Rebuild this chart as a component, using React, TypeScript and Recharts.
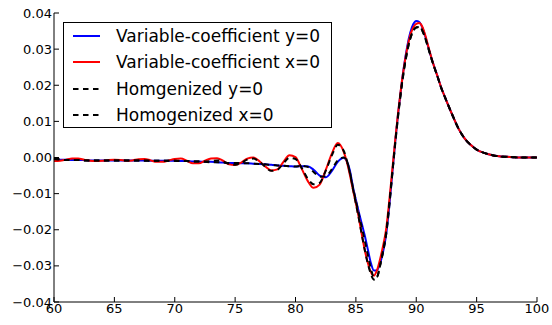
import React from 'react';
import { LineChart, Line, XAxis, YAxis } from 'recharts';

const xValues = [
  60, 60.5, 61, 61.5, 62, 62.5, 63, 63.5, 64, 64.5,
  65, 65.5, 66, 66.5, 67, 67.5, 68, 68.5, 69, 69.5,
  70, 70.5, 71, 71.5, 72, 72.5, 73, 73.5, 74, 74.5,
  75, 75.5, 76, 76.5, 77, 77.5, 78, 78.5, 79, 79.5,
  80, 80.5, 81, 81.5, 82, 82.5, 83, 83.5, 84,
  84.25, 84.5, 84.75, 85, 85.25, 85.5, 85.75, 86,
  86.25, 86.5, 86.75, 87, 87.25, 87.5, 87.75, 88,
  88.25, 88.5, 88.75, 89, 89.25, 89.5, 89.75, 90,
  90.25, 90.5, 90.75, 91, 91.25, 91.5, 91.75, 92,
  92.5, 93, 93.5, 94, 94.5, 95, 95.5, 96,
  96.5, 97, 97.5, 98, 98.5, 99, 99.5, 100,
];

// Variable-coefficient y=0 (blue)
const varCoefY = [
  -0.0005, -0.0006, -0.0006, -0.0007, -0.0007, -0.0007, -0.0008, -0.0008, -0.0008, -0.0008,
  -0.0008, -0.0008, -0.0008, -0.0008, -0.0008, -0.0008, -0.0009, -0.0009, -0.0009, -0.0009,
  -0.0009, -0.001, -0.001, -0.0011, -0.0011, -0.0012, -0.0012, -0.0013, -0.0014, -0.0015,
  -0.0015, -0.0016, -0.0016, -0.0017, -0.0018, -0.0019, -0.002, -0.0022, -0.0023, -0.0024,
  -0.0025, -0.0024, -0.0024, -0.0034, -0.005, -0.0055, -0.0038, -0.0012, -0.0001,
  -0.001, -0.0035, -0.008, -0.0117, -0.0152, -0.0185, -0.0218, -0.0256,
  -0.0293, -0.0313, -0.0312, -0.0293, -0.0262, -0.0215, -0.014, -0.005,
  0.004, 0.0122, 0.0193, 0.0256, 0.0307, 0.0345, 0.0369, 0.0378,
  0.0375, 0.036, 0.0335, 0.0305, 0.0276, 0.025, 0.0226, 0.02,
  0.0157, 0.0117, 0.008, 0.0053, 0.0035, 0.0022, 0.0014, 0.0009,
  0.0005, 0.0003, 0.0002, 0.0001, 0, 0, 0, 0,
];

// Variable-coefficient x=0 (red)
const varCoefX = [
  -0.001, -0.0009, -0.0006, -0.0003, -0.0003, -0.0006, -0.0009, -0.001, -0.0009, -0.0007,
  -0.0006, -0.0007, -0.0009, -0.0008, -0.0005, -0.0004, -0.0008, -0.0012, -0.0012, -0.0008,
  -0.0004, -0.0003, -0.0009, -0.0016, -0.0016, -0.0009, -0.0003, -0.0002, -0.0009, -0.0019,
  -0.0021, -0.0014, -0.0003, 0, -0.001, -0.0025, -0.0036, -0.0033, -0.0012, 0.0006,
  0.0001, -0.003, -0.0064, -0.0084, -0.0075, -0.0035, 0.001, 0.004, 0.0015,
  -0.0012, -0.0048, -0.0088, -0.0127, -0.0168, -0.0215, -0.0258, -0.0293,
  -0.0318, -0.0327, -0.0312, -0.0282, -0.0245, -0.02, -0.0125, -0.004,
  0.0045, 0.0125, 0.0195, 0.0254, 0.0302, 0.0338, 0.036, 0.037,
  0.0372, 0.0362, 0.0338, 0.0307, 0.0277, 0.025, 0.0226, 0.02,
  0.0157, 0.0117, 0.008, 0.0053, 0.0035, 0.0022, 0.0014, 0.0009,
  0.0005, 0.0003, 0.0002, 0.0001, 0, 0, 0, 0,
];

// Homgenized y=0 (black dashed)
const homogY = [
  -0.0002, -0.0005, -0.0007, -0.0007, -0.0007, -0.0008, -0.0008, -0.0008, -0.0008, -0.0008,
  -0.0008, -0.0008, -0.0008, -0.0008, -0.0008, -0.0009, -0.0009, -0.0009, -0.0009, -0.0009,
  -0.0009, -0.001, -0.001, -0.0011, -0.0011, -0.0012, -0.0013, -0.0013, -0.0014, -0.0015,
  -0.0015, -0.0016, -0.0016, -0.0017, -0.0018, -0.0019, -0.0021, -0.0022, -0.0023, -0.0024,
  -0.0025, -0.0023, -0.0026, -0.004, -0.0053, -0.0052, -0.0033, -0.0008, 0,
  -0.001, -0.004, -0.0082, -0.012, -0.0158, -0.0195, -0.0232, -0.0272,
  -0.0308, -0.0332, -0.033, -0.03, -0.0262, -0.0215, -0.014, -0.0052,
  0.0035, 0.0115, 0.0185, 0.0245, 0.0293, 0.0328, 0.035, 0.036,
  0.0362, 0.0352, 0.033, 0.0303, 0.0275, 0.0249, 0.0225, 0.0199,
  0.0157, 0.0117, 0.008, 0.0053, 0.0035, 0.0022, 0.0014, 0.0009,
  0.0005, 0.0003, 0.0002, 0.0001, 0, 0, 0, 0,
];

// Homogenized x=0 (black dashed)
const homogX = [
  -0.0004, -0.0006, -0.0007, -0.0007, -0.0007, -0.0008, -0.0008, -0.0008, -0.0008, -0.0008,
  -0.0008, -0.0008, -0.0008, -0.0008, -0.0008, -0.0008, -0.0009, -0.0009, -0.0009, -0.0009,
  -0.0009, -0.0009, -0.001, -0.0011, -0.0011, -0.0011, -0.001, -0.0008, -0.0011, -0.0018,
  -0.002, -0.0015, -0.0006, -0.0003, -0.0011, -0.0026, -0.0037, -0.0034, -0.0016, -0.0001,
  -0.0004, -0.0028, -0.0058, -0.0074, -0.007, -0.0037, 0.0005, 0.0035, 0.0018,
  -0.0008, -0.0042, -0.0085, -0.0127, -0.017, -0.0215, -0.0258, -0.0295,
  -0.0323, -0.0338, -0.0332, -0.03, -0.0258, -0.021, -0.0133, -0.0048,
  0.0038, 0.0118, 0.0188, 0.0247, 0.0294, 0.0329, 0.0351, 0.036,
  0.0361, 0.0351, 0.0329, 0.0302, 0.0274, 0.0249, 0.0225, 0.0199,
  0.0157, 0.0117, 0.008, 0.0053, 0.0035, 0.0022, 0.0014, 0.0009,
  0.0005, 0.0003, 0.0002, 0.0001, 0, 0, 0, 0,
];

const xTicks = [60, 65, 70, 75, 80, 85, 90, 95, 100];
const yTicks = [-0.04, -0.03, -0.02, -0.01, 0, 0.01, 0.02, 0.03, 0.04];

const legendItems = [
  { label: 'Variable-coefficient y=0', color: '#0000ff', dashed: false },
  { label: 'Variable-coefficient x=0', color: '#ff0000', dashed: false },
  { label: 'Homgenized y=0', color: '#000000', dashed: true },
  { label: 'Homogenized x=0', color: '#000000', dashed: true },
];

const chartData = xValues.map((x, i) => ({
  x,
  varY: varCoefY[i],
  varX: varCoefX[i],
  homY: homogY[i],
  homX: homogX[i],
}));

const FONT = '"DejaVu Sans", sans-serif';
const DASH = '5.5 4.5';

const fmtY = (v: number) => {
  const s = Math.abs(v).toFixed(2);
  return v < -1e-9 ? '\u2212' + s : s;
};

const tickStyle = { fill: '#000', fontSize: 13, fontFamily: FONT };

export default function App() {
  return (
    <div style={{ position: 'absolute', left: 0, top: 0, width: 552, height: 325, background: '#fff' }}>
      <LineChart
        width={552}
        height={325}
        data={chartData}
        margin={{ top: 13, right: 15, bottom: 3, left: 0 }}
        style={{ fontFamily: FONT }}
      >
        <XAxis
          dataKey="x"
          type="number"
          domain={[60, 100]}
          ticks={xTicks}
          interval={0}
          height={20}
          tickSize={-5}
          tickMargin={7}
          tick={tickStyle}
          stroke="#000"
          axisLine={{ stroke: '#000', strokeWidth: 1 }}
          tickLine={{ stroke: '#000' }}
        />
        <XAxis
          xAxisId="top"
          orientation="top"
          dataKey="x"
          type="number"
          domain={[60, 100]}
          ticks={xTicks}
          interval={0}
          height={0}
          tickSize={-5}
          tick={false}
          stroke="#000"
        />
        <YAxis
          type="number"
          domain={[-0.04, 0.04]}
          ticks={yTicks}
          interval={0}
          width={54}
          tickSize={-5}
          tickMargin={7}
          tickFormatter={fmtY}
          tick={tickStyle}
          stroke="#000"
        />
        <YAxis
          yAxisId="right"
          orientation="right"
          type="number"
          domain={[-0.04, 0.04]}
          ticks={yTicks}
          interval={0}
          width={0}
          tickSize={-5}
          tick={false}
          stroke="#000"
        />
        <Line type="monotone" dataKey="varY" stroke="#0000ff" strokeWidth={2} dot={false} isAnimationActive={false} />
        <Line type="monotone" dataKey="varX" stroke="#ff0000" strokeWidth={2} dot={false} isAnimationActive={false} />
        <Line type="monotone" dataKey="homY" stroke="#000" strokeWidth={2} strokeDasharray={DASH} dot={false} isAnimationActive={false} />
        <Line type="monotone" dataKey="homX" stroke="#000" strokeWidth={2} strokeDasharray={DASH} dot={false} isAnimationActive={false} />
      </LineChart>
      <div
        style={{
          position: 'absolute',
          left: 63,
          top: 22,
          width: 267,
          height: 104,
          border: '1px solid #000',
          background: '#fff',
          fontFamily: FONT,
          fontSize: 17,
          color: '#000',
        }}
      >
        {legendItems.map((item, i) => (
          <div
            key={item.label}
            style={{ position: 'absolute', left: 0, top: 2 + i * 26.3, height: 22, display: 'flex', alignItems: 'center', whiteSpace: 'nowrap' }}
          >
            <svg width={52} height={22} style={{ display: 'block' }}>
              <line
                x1={9}
                x2={36}
                y1={11}
                y2={11}
                stroke={item.color}
                strokeWidth={2}
                strokeDasharray={item.dashed ? DASH : undefined}
              />
            </svg>
            <span style={{ lineHeight: '22px' }}>{item.label}</span>
          </div>
        ))}
      </div>
    </div>
  );
}
